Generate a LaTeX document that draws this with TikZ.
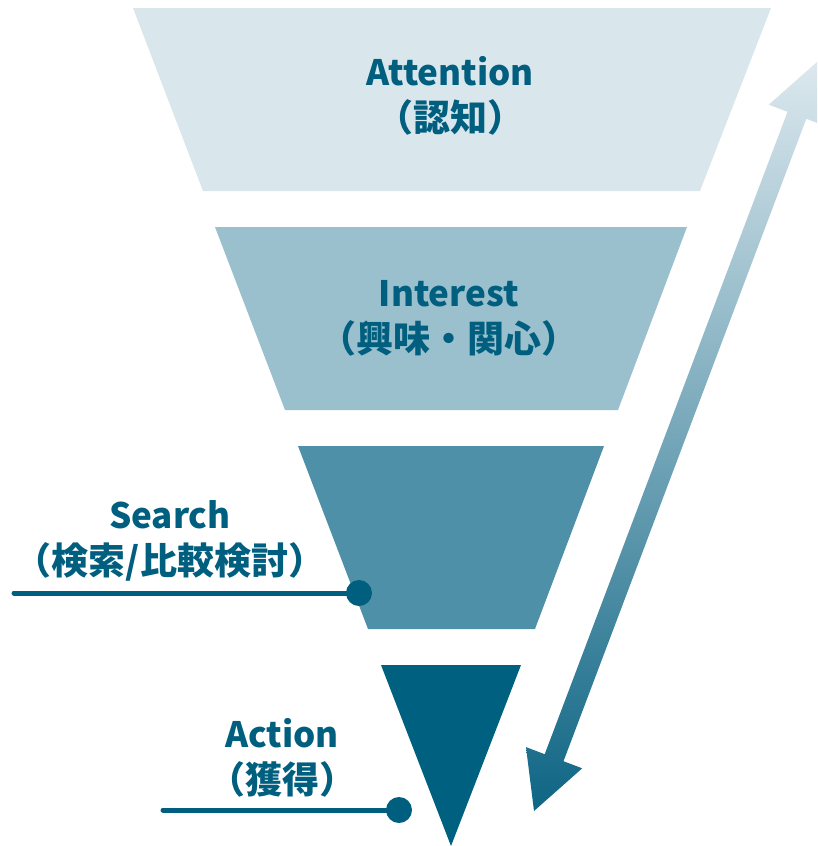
\documentclass[tikz,border=0pt]{standalone}
\usepackage{fontspec}
\setmainfont{Noto Sans CJK JP}
\usetikzlibrary{calc}
\definecolor{lvA}{HTML}{D9E6EC}
\definecolor{lvI}{HTML}{9ABFCD}
\definecolor{lvS}{HTML}{4F90A9}
\definecolor{lvC}{HTML}{00607F}
\definecolor{txt}{HTML}{005E7E}
\definecolor{arTop}{HTML}{DCE8EE}
\definecolor{arBot}{HTML}{0E6584}
\newcommand{\jp}{\fontsize{37}{46}\selectfont}
\tikzset{
  lbl/.style={text=txt, font=\fontsize{35}{46}\selectfont\bfseries, align=center, inner sep=0pt},
  leader/.style={draw=txt, line width=5pt, line cap=round},
  dot/.style={circle, fill=txt, minimum size=26pt, inner sep=0pt}
}
\begin{document}
\begin{tikzpicture}[x=1pt,y=-1pt]
\clip (0,0) rectangle (817,846);
% funnel layers
\fill[lvA] (133,8) -- (771,8) -- (700,191) -- (203,191) -- cycle;
\fill[lvI] (215,227) -- (687,227) -- (618,410) -- (285,410) -- cycle;
\fill[lvS] (298,446) -- (604,446) -- (535,629) -- (368,629) -- cycle;
\fill[lvC] (381,665) -- (521,665) -- (451,846) -- cycle;
% double arrow
\shade[top color=arTop, bottom color=arBot]
  (534,811) -- (526,747.1) -- (544.7,754.2) -- (787.5,111.8) -- (768.8,104.7)
  -- (817,62) -- (825,125.9) -- (806.3,118.8) -- (563.5,761.2) -- (582.2,768.3) -- cycle;
% labels
\node[lbl] (att) at (450,96) {Attention\\{\jp（認知）}};
\node[lbl] (int) at (449,318) {Interest\\{\jp（興味・関心）}};
\node[lbl] (sea) at (170,541) {Search\\{\jp（検索/比較検討）}};
\node[lbl] (act) at (282,758) {Action\\{\jp（獲得）}};
% leaders
\node[dot] (sdot) at (359,593) {};
\coordinate (sstart) at (14,593);
\draw[leader] (sstart) -- (sdot.center);
\node[dot] (adot) at (399,810) {};
\coordinate (astart) at (163,810);
\draw[leader] (astart) -- (adot.center);
\end{tikzpicture}
\end{document}
